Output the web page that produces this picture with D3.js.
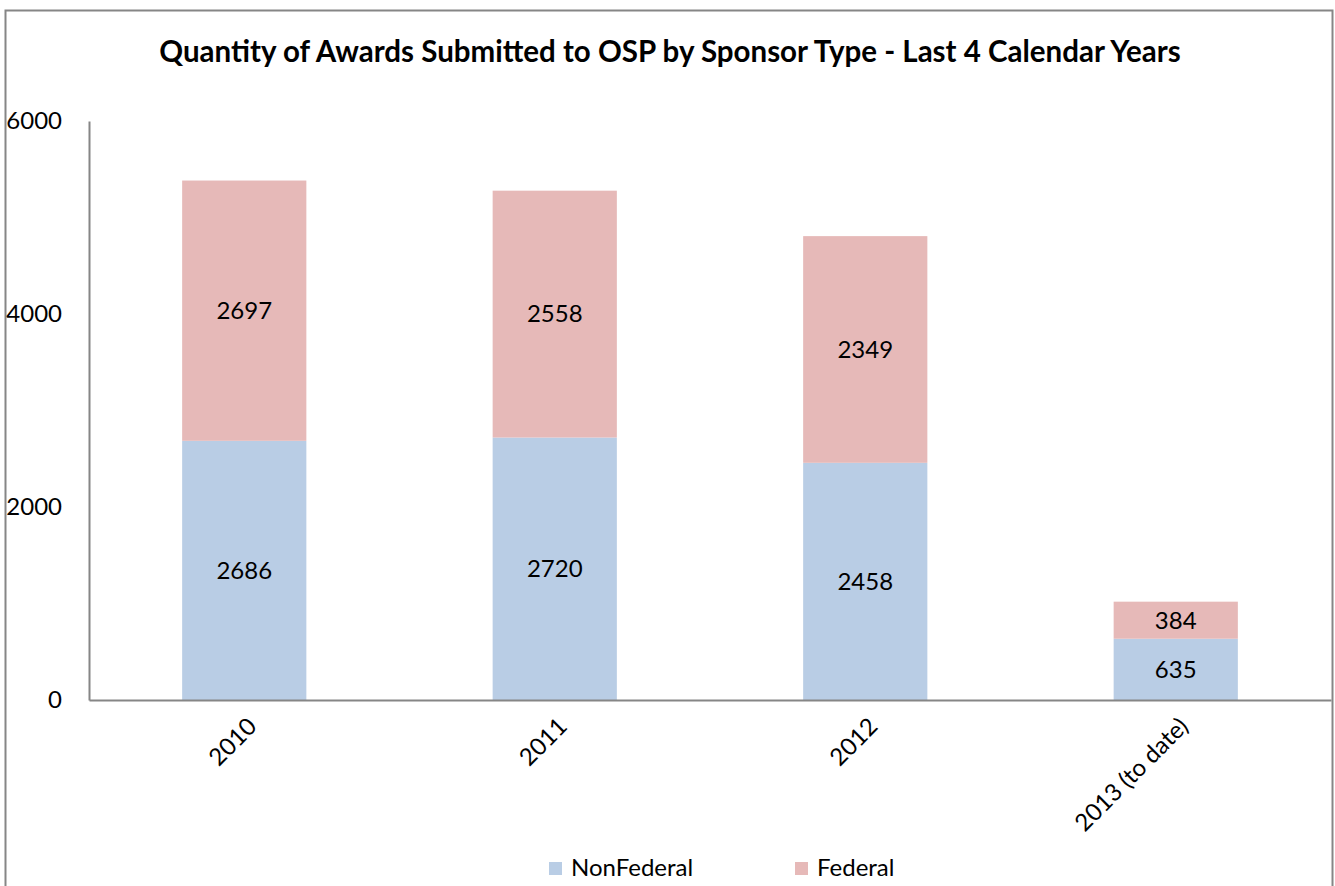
<!DOCTYPE html>
<html>
<head>
<meta charset="utf-8">
<script src="https://cdn.jsdelivr.net/npm/d3@7"></script>
<style>
  body { margin: 0; background: #fff; }
  text { font-family: Lato, "Open Sans", sans-serif; fill: #000; }
</style>
</head>
<body>
<div id="chart"></div>
<script>
// Chart data
const years = ['2010', '2011', '2012', '2013 (to date)'];
const nonFederal = [2686, 2720, 2458, 635];
const federal = [2697, 2558, 2349, 384];
const yTicks = [0, 2000, 4000, 6000];
const seriesNames = ['NonFederal', 'Federal'];
const seriesColors = ['#b9cde5', '#e6b9b8'];

const width = 1335;
const height = 886;
const margin = { top: 121, right: 4, bottom: 186, left: 89 };

const svg = d3.select('#chart')
    .append('svg')
    .attr('width', width)
    .attr('height', height);

// Outer frame
svg.append('rect')
    .attr('x', 5.5)
    .attr('y', 10.5)
    .attr('width', 1327)
    .attr('height', 900)
    .attr('fill', 'none')
    .attr('stroke', '#868686')
    .attr('stroke-width', 2);

// Title
svg.append('text')
    .attr('x', 670)
    .attr('y', 62)
    .attr('text-anchor', 'middle')
    .attr('font-size', '29.5px')
    .attr('font-weight', 'bold')
    .text('Quantity of Awards Submitted to OSP by Sponsor Type - Last 4 Calendar Years');

const x = d3.scaleBand()
    .domain(years)
    .range([margin.left, width - margin.right])
    .paddingInner(0.6)
    .paddingOuter(0.3);

const y = d3.scaleLinear()
    .domain([0, 6000])
    .range([height - margin.bottom, margin.top]);

// Build stacked data
const rows = years.map((yr, i) => ({ year: yr, NonFederal: nonFederal[i], Federal: federal[i] }));
const stacked = d3.stack().keys(seriesNames)(rows);

const layers = svg.append('g')
    .selectAll('g')
    .data(stacked)
    .enter()
    .append('g')
    .attr('fill', (d, i) => seriesColors[i]);

layers.selectAll('rect')
    .data(d => d)
    .enter()
    .append('rect')
    .attr('x', d => x(d.data.year))
    .attr('y', d => y(d[1]))
    .attr('width', x.bandwidth())
    .attr('height', d => y(d[0]) - y(d[1]));

// Value labels
layers.selectAll('text')
    .data(d => d.map(v => ({ v, key: d.key })))
    .enter()
    .append('text')
    .attr('x', d => x(d.v.data.year) + x.bandwidth() / 2)
    .attr('y', d => (y(d.v[0]) + y(d.v[1])) / 2)
    .attr('dy', '0.35em')
    .attr('text-anchor', 'middle')
    .attr('font-size', '24px')
    .style('fill', '#000')
    .text(d => d.v.data[d.key]);

// Y axis
const yAxis = svg.append('g')
    .attr('transform', `translate(${margin.left},0)`)
    .call(d3.axisLeft(y).tickValues(yTicks).tickSize(0).tickPadding(27).tickFormat(d3.format('d')));
yAxis.select('.domain').attr('stroke', '#868686').attr('stroke-width', 2);
yAxis.selectAll('text').attr('font-size', '24px').attr('font-family', 'Lato, sans-serif');

// X axis
const xAxis = svg.append('g')
    .attr('transform', `translate(0,${height - margin.bottom})`)
    .call(d3.axisBottom(x).tickSize(0).tickPadding(0));
xAxis.select('.domain').attr('stroke', '#868686').attr('stroke-width', 2);
xAxis.selectAll('text')
    .attr('font-size', '24px')
    .attr('font-family', 'Lato, sans-serif')
    .attr('text-anchor', 'end')
    .attr('dy', '0.35em')
    .attr('transform', 'translate(8,22) rotate(-45)');

// Legend
const legend = svg.append('g')
    .attr('class', 'legend')
    .attr('transform', 'translate(549,868)');

seriesNames.forEach((name, i) => {
    const row = legend.append('g')
        .attr('transform', `translate(${i * 246},0)`);
    row.append('rect')
        .attr('x', 0)
        .attr('y', -6)
        .attr('width', 13)
        .attr('height', 13)
        .attr('fill', seriesColors[i]);
    row.append('text')
        .attr('x', 22)
        .attr('y', 0)
        .attr('dy', '0.35em')
        .attr('font-size', '24px')
        .text(name);
});
</script>
</body>
</html>
